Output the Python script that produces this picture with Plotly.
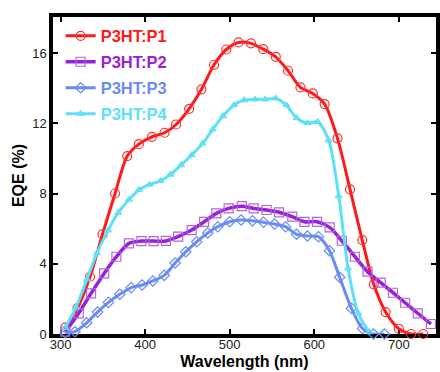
import plotly.graph_objects as go

# ---- data ----
p1_x = [305.5, 320, 334.8, 349.5, 364.4, 378.8, 392.5, 408, 423, 436.6, 452, 466.6, 481.5, 496, 510.4,
        525.2, 539.7, 554.5, 569, 583.7, 598.2, 612.3, 627.5, 642.3, 656.8, 670.4, 684.4, 700, 714.5, 729]
p1_y = [0.36, 1.48, 3.26, 5.67, 8.0, 10.13, 10.81, 11.23, 11.46, 11.93, 12.82, 13.93, 15.33, 16.2, 16.6,
        16.55, 16.22, 15.78, 14.99, 14.04, 13.7, 13.09, 11.14, 8.24, 5.35, 2.83, 1.25, 0.3, 0, 0]

p2_x = [305.5, 321.4, 336, 351.5, 366, 380.8, 395.7, 410, 424.5, 439, 455, 469.8, 484.2, 498.7, 514.3,
        528.3, 543.6, 558.4, 574, 588.4, 603.3, 618.2, 632.6, 648.1, 663, 678.6, 693.1, 707.5, 722.4, 738]
p2_y = [0.13, 1.18, 2.31, 3.45, 4.4, 5.16, 5.29, 5.29, 5.3, 5.55, 5.92, 6.39, 6.87, 7.15, 7.28,
        7.15, 7.06, 6.93, 6.68, 6.39, 6.39, 6.07, 5.31, 4.4, 3.55, 2.92, 2.35, 1.78, 1.18, 0.57]

p3_x = [305.5, 317, 330.8, 343.7, 356.6, 370, 383.5, 396.4, 409, 422.6, 435.5, 448, 461, 474, 486,
        500, 513.5, 527, 540, 553, 566, 579, 592, 605, 618, 630, 644, 657, 670, 683]
p3_y = [0.07, 0.13, 0.64, 1.25, 1.8, 2.26, 2.64, 2.79, 3.02, 3.34, 4.04, 4.68, 5.25, 5.75, 6.11,
        6.39, 6.49, 6.45, 6.36, 6.26, 6.11, 5.68, 5.58, 5.54, 4.74, 3.23, 1.46, 0.32, 0, 0]

p4_x = [305.5, 318, 331, 343, 356, 368, 380.8, 392.5, 405, 418, 430, 442.5, 455, 468, 480,
        492, 505, 517, 530, 542, 554.5, 567, 579, 592, 604, 617, 629, 640, 652, 665]
p4_y = [0.35, 1.5, 3.1, 4.6, 5.9, 6.9, 7.65, 8.2, 8.5, 8.72, 9.08, 9.62, 10.19, 10.85, 11.65,
        12.41, 13.03, 13.32, 13.36, 13.36, 13.41, 13.03, 12.3, 12.0, 12.08, 11.04, 7.85, 3.74, 1.18, 0.1]

names = ["P3HT:P1", "P3HT:P2", "P3HT:P3", "P3HT:P4"]
x_ticks = [300, 400, 500, 600, 700]
y_ticks = [0, 4, 8, 12, 16]

# ---- styles ----
series = [
    (p1_x, p1_y, "#FF1A1A", "#FF3030", "circle-open", 9, 3),
    (p2_x, p2_y, "#9A1FD6", "#B066E0", "square-open", 9, 3.5),
    (p3_x, p3_y, "#6A8CF2", "#6A8CF2", "diamond-open", 8, 3),
    (p4_x, p4_y, "#5FE0F8", "#5FE0F8", "triangle-up-open", 6, 3),
]

FONT = "Liberation Sans, Arial, sans-serif"

fig = go.Figure()
for i, (name, (xs, ys, lc, mc, sym, ms, lw)) in enumerate(zip(names, series)):
    fig.add_trace(go.Scatter(
        x=xs, y=ys, mode="lines+markers",
        name=f"<b><span style='color:{lc}'>{name}</span></b>",
        legendgroup=f"g{i}",
        line=dict(color=lc, width=lw, shape="spline", smoothing=0.8),
        marker=dict(symbol=sym, size=ms, color=mc, line=dict(color=mc, width=1.2)),
        cliponaxis=False,
    ))

axis_common = dict(
    showline=True, linecolor="black", linewidth=3.5, mirror="ticks",
    ticks="inside", ticklen=5, tickwidth=1.5, tickcolor="black",
    showgrid=False, zeroline=False, layer="below traces",
    tickfont=dict(family=FONT, size=13, color="#222222"),
)

fig.update_layout(
    width=440, height=372,
    margin=dict(l=53, r=0, t=17, b=38),
    paper_bgcolor="white", plot_bgcolor="white",
    showlegend=True,
    legend=dict(x=0.02, y=0.995, xanchor="left", yanchor="top",
                bgcolor="rgba(0,0,0,0)", borderwidth=0,
                font=dict(family=FONT, size=16.5, color="black"),
                tracegroupgap=1.5, itemwidth=30),
    xaxis=dict(range=[291, 744], tickvals=x_ticks, ticklabelstandoff=-4,
               title=dict(text="<b>Wavelength (nm)</b>", standoff=5,
                          font=dict(family=FONT, size=16, color="black")),
               **axis_common),
    yaxis=dict(range=[0, 18.05], tickvals=y_ticks,
               title=dict(text="<b>EQE (%)</b>", standoff=5,
                          font=dict(family=FONT, size=16, color="black")),
               **axis_common),
)

fig.write_html("out.html")
